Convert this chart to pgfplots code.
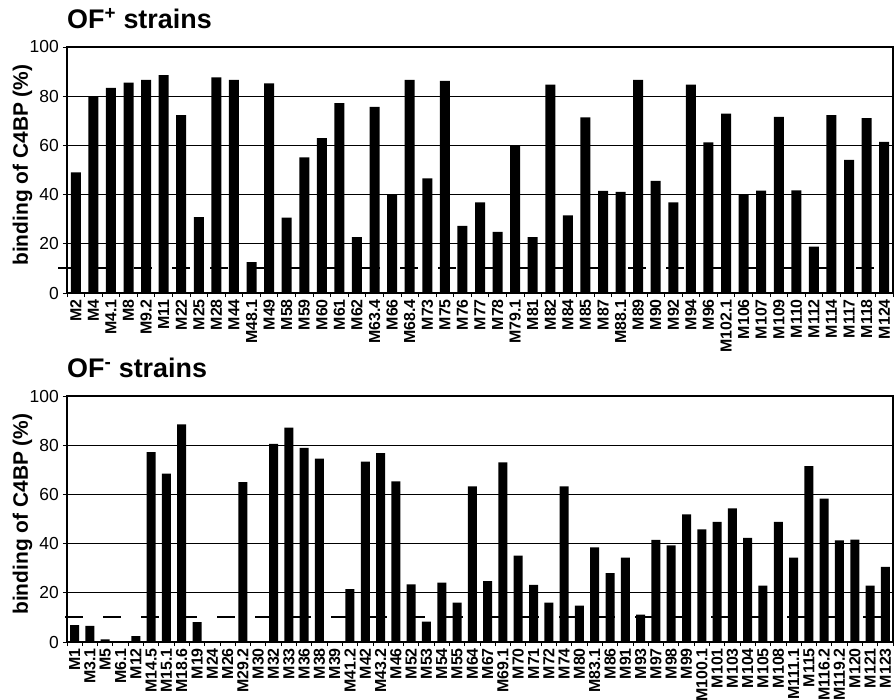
\documentclass[border=0pt]{standalone}
\usepackage{fontspec}
\setmainfont{Liberation Sans}
\usepackage{pgfplots}
\pgfplotsset{compat=1.18}
\pgfplotsset{
  panel/.style={
    scale only axis, width=826bp, height=246bp,
    ymin=0, ymax=100, ytick={0,20,...,100},
    ymajorgrids, grid style={black, line width=0.8bp},
    axis line style={black, line width=1.1bp},
    tick align=outside, major tick length=4bp,
    tick style={black, line width=0.8bp},
    ytick pos=left, xtick pos=bottom,
    xticklabels={},
    /pgf/number format/assume math mode=true,
    yticklabel style={font=\fontsize{17.5}{17.5}\selectfont, inner sep=0pt, xshift=-4bp},
    ylabel={\textbf{binding of C4BP (\%)}},
    ylabel style={font=\fontsize{21}{21}\selectfont, at={(axis description cs:-0.054,0.52)}, anchor=center},
    title style={font=\bfseries\fontsize{27}{27}\selectfont, at={(axis description cs:0,1)}, anchor=base west, yshift=13bp, inner sep=0pt},
    extra x tick style={major tick length=0pt, tick label style={rotate=90, anchor=east, font=\bfseries\fontsize{16}{16}\selectfont, inner xsep=6bp, inner ysep=0pt}},
    clip=false,
  }
}
\begin{document}
\begin{tikzpicture}
\begin{axis}[panel, at={(0,0)}, anchor=south west,
  title={OF\textsuperscript{+} strains},
  xmin=-0.5, xmax=46.5,
  xtick={-0.5,0.5,...,46.5},
  extra x ticks={0,1,...,46},
  extra x tick labels={M2,M4,M4.1,M8,M9.2,M11,M22,M25,M28,M44,M48.1,M49,M58,M59,M60,M61,M62,M63.4,M66,M68.4,M73,M75,M76,M77,M78,M79.1,M81,M82,M84,M85,M87,M88.1,M89,M90,M92,M94,M96,M102.1,M106,M107,M109,M110,M112,M114,M117,M118,M124},
]
\addplot[black, line width=2bp, dash pattern=on 18bp off 20bp] coordinates {(-1,10) (46.5,10)};
\addplot[ybar, bar width=10bp, fill=black, draw=none] coordinates {
(0,49) (1,80) (2,83.4) (3,85.5) (4,86.6) (5,88.6) (6,72.3) (7,30.8) (8,87.7) (9,86.6)
(10,12.6) (11,85.2) (12,30.6) (13,55.1) (14,63) (15,77.2) (16,22.7) (17,75.7) (18,40) (19,86.6)
(20,46.6) (21,86.2) (22,27.3) (23,36.8) (24,24.8) (25,60) (26,22.7) (27,84.7) (28,31.6) (29,71.4)
(30,41.5) (31,41.1) (32,86.6) (33,45.6) (34,36.8) (35,84.7) (36,61.2) (37,72.9) (38,40) (39,41.6)
(40,71.6) (41,41.7) (42,18.9) (43,72.3) (44,54.1) (45,71.1) (46,61.4)};
\draw[line width=2bp] (rel axis cs:0,1) -- (rel axis cs:1,1);
\end{axis}
\begin{axis}[panel, at={(0,-349bp)}, anchor=south west,
  title={OF\textsuperscript{-} strains},
  xmin=-0.5, xmax=53.5,
  xtick={-0.5,0.5,...,53.5},
  extra x ticks={0,1,...,53},
  extra x tick labels={M1,M3.1,M5,M6.1,M12,M14.5,M15.1,M18.6,M19,M24,M26,M29.2,M30,M32,M33,M36,M38,M39,M41.2,M42,M43.2,M46,M52,M53,M54,M55,M64,M67,M69.1,M70,M71,M72,M74,M80,M83.1,M86,M91,M93,M97,M98,M99,M100.1,M101,M103,M104,M105,M108,M111.1,M115,M116.2,M119.2,M120,M121,M123},
]
\addplot[black, line width=2bp, dash pattern=on 18bp off 20bp] coordinates {(-0.6,10) (53.5,10)};
\addplot[ybar, bar width=9bp, fill=black, draw=none] coordinates {
(0,6.9) (1,6.6) (2,1.1) (3,0.3) (4,2.4) (5,77.2) (6,68.4) (7,88.5) (8,8.1) (9,0)
(10,0) (11,65) (12,0) (13,80.5) (14,87.1) (15,78.9) (16,74.5) (17,0) (18,21.5) (19,73.3)
(20,76.8) (21,65.3) (22,23.4) (23,8.3) (24,24.1) (25,16) (26,63.3) (27,24.7) (28,73) (29,35.1)
(30,23.2) (31,16) (32,63.3) (33,14.8) (34,38.5) (35,28) (36,34.3) (37,11.1) (38,41.5) (39,39.3)
(40,51.9) (41,45.8) (42,48.8) (43,54.3) (44,42.3) (45,22.9) (46,48.8) (47,34.3) (48,71.5) (49,58.3)
(50,41.3) (51,41.6) (52,22.9) (53,30.5)};
\draw[line width=2bp] (rel axis cs:0,1) -- (rel axis cs:1,1);
\end{axis}
\pgfresetboundingbox
\path[use as bounding box] (-67bp,-407bp) rectangle (827bp,293bp);
\end{tikzpicture}
\end{document}
